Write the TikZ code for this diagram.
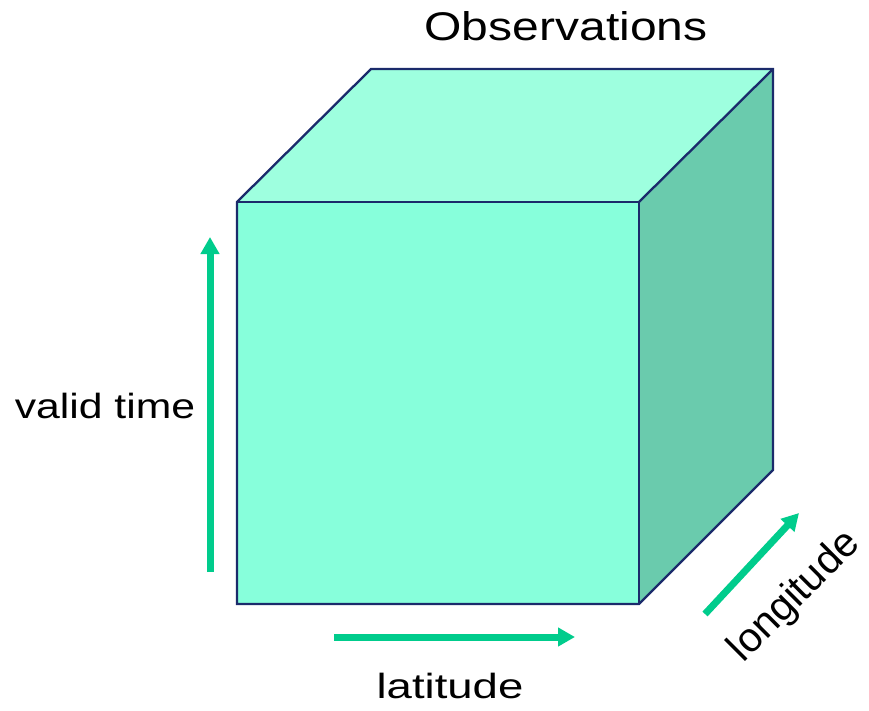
\documentclass[tikz,border=0pt]{standalone}
\usepackage{fontspec}
\setmainfont{Liberation Sans}
\usetikzlibrary{arrows.meta}
\definecolor{frontface}{HTML}{87FFDB}
\definecolor{topface}{HTML}{9EFFDF}
\definecolor{sideface}{HTML}{6ACBAD}
\definecolor{cubeedge}{HTML}{1B2B6B}
\definecolor{axisgreen}{HTML}{00CC8C}
\begin{document}
\begin{tikzpicture}[x=1pt,y=-1pt,line join=miter,
  face/.style={draw=cubeedge,line width=2.3pt},
  dimarrow/.style={draw=axisgreen,line width=7pt,line cap=butt,-{Triangle[width=18pt,length=17pt]}},
  lbl/.style={font=\fontsize{35}{40}\selectfont,inner sep=0pt}]
  \useasboundingbox (0,0) rectangle (869,711);
  \coordinate (fnw) at (237,202);
  \coordinate (fne) at (639,202);
  \coordinate (fse) at (639,604);
  \coordinate (fsw) at (237,604);
  \coordinate (bnw) at (371,69);
  \coordinate (bne) at (773,69);
  \coordinate (bse) at (773,470);
  \fill[topface] (fnw) -- (bnw) -- (bne) -- (fne) -- cycle;
  \fill[sideface] (fne) -- (bne) -- (bse) -- (fse) -- cycle;
  \fill[frontface] (fnw) rectangle (fse);
  \draw[face] (fsw) -- (fnw) -- (bnw) -- (bne) -- (bse) -- (fse) -- cycle;
  \draw[face] (fnw) -- (fne) -- (fse);
  \draw[face] (fne) -- (bne);
  \coordinate (time0) at (210,572);
  \coordinate (time1) at (210,237);
  \coordinate (lat0) at (334,637);
  \coordinate (lat1) at (575,637);
  \coordinate (lon0) at (705,614);
  \coordinate (lon1) at (799,513);
  \draw[dimarrow] (time0) -- (time1);
  \draw[dimarrow] (lat0) -- (lat1);
  \draw[dimarrow] (lon0) -- (lon1);
  \node[lbl,anchor=base,font=\fontsize{40}{44}\selectfont,xscale=1.2] (title) at (566,41) {Observations};
  \node[lbl,anchor=base,xscale=1.22] (timelbl) at (105,418) {valid time};
  \node[lbl,anchor=base,xscale=1.3] (latlbl) at (450,698) {latitude};
  \node[rotate=45,lbl,font=\fontsize{41}{44}\selectfont] (lonlbl) at (795,597) {longitude};
\end{tikzpicture}
\end{document}
